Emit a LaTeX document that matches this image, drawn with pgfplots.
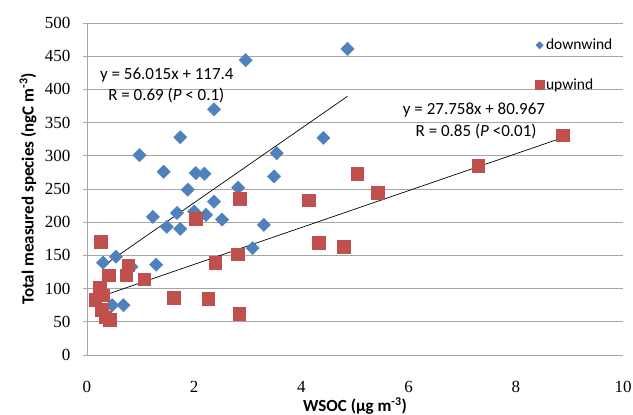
\documentclass[border=0pt]{standalone}
\usepackage{fontspec}
\setmainfont{Carlito}
\newfontfamily\tickfont{Liberation Serif}
\usepackage{pgfplots}
\pgfplotsset{compat=1.18}
\definecolor{dwblue}{HTML}{4F81BD}
\definecolor{upred}{HTML}{C0504D}
\definecolor{gridgray}{HTML}{A6A6A6}

\begin{document}
\begin{tikzpicture}
\begin{axis}[
    scale only axis,
    width=536pt, height=332pt,
    xmin=0, xmax=10, ymin=0, ymax=500,
    xtick={0,2,...,10}, ytick={0,50,...,500},
    axis lines*=left,
    axis line style={gridgray, line width=0.8pt},
    ymajorgrids,
    major grid style={gridgray, line width=0.8pt},
    tick align=outside, major tick length=4pt,
    ytick style={gridgray, line width=0.8pt},
    xtick style={draw=none},
    /pgf/number format/assume math mode=true,
    ticklabel style={font=\tickfont\fontsize{17}{17}\selectfont},
    xticklabel style={anchor=center, yshift=-28pt},
    yticklabel style={anchor=east, xshift=-9pt},
    xlabel={WSOC (μg m\textsuperscript{-3})},
    ylabel={Total measured species (ngC m\textsuperscript{-3})},
    label style={font=\bfseries\fontsize{17}{19}\selectfont},
    xlabel style={at={(rel axis cs:0.5,0)}, anchor=center, yshift=-51pt},
    ylabel style={at={(rel axis cs:0,0.5)}, anchor=center, yshift=59pt},
    legend style={at={(rel axis cs:0.83,0.964)}, anchor=north west,
        draw=none, fill=none, font=\fontsize{15.5}{17}\selectfont,
        row sep=23pt},
    legend cell align=left,
]
% downwind
\addplot[only marks, mark=square*, mark size=4.7pt,
    mark options={rotate=45, fill=dwblue, draw=dwblue},
    legend image post style={mark size=2.6pt}] table {
4.86 461
2.96 444
2.37 370
1.74 328
4.41 327
0.98 301
3.54 304
1.43 276
2.03 274
2.19 273
3.49 269
2.82 252
1.88 249
2.37 231
1.23 208
1.68 214
2.00 216
2.22 211
2.52 204
1.49 193
1.74 190
3.30 196
3.09 161
0.30 139
0.54 148
1.29 136
0.83 133
0.68 75
0.47 75
};
\addlegendentry{downwind}
% upwind
\addplot[only marks, mark=square*, mark size=6.3pt,
    mark options={fill=upred, draw=upred},
    legend image post style={mark size=4.5pt}] table {
0.26 171
0.40 120
0.73 120
0.77 135
1.07 114
0.24 101
0.15 83
0.30 90
0.27 68
0.34 57
0.42 53
1.62 86
2.26 85
2.84 62
2.39 139
2.81 152
2.03 205
2.85 235
4.14 233
4.32 169
4.79 163
5.04 273
5.42 244
7.30 285
8.87 331
};
\addlegendentry{upwind}
% linear fits
\addplot[black, line width=0.7pt, forget plot] coordinates {(0.30,134.2) (4.86,389.6)};
\addplot[black, line width=0.7pt, forget plot] coordinates {(0.15,85.1) (8.87,327.2)};
\node[font=\fontsize{17}{19}\selectfont] at (axis cs:1.49,421.7) {y = 56.015x + 117.4};
\node[font=\fontsize{17}{19}\selectfont] at (axis cs:1.48,391.6) {R = 0.69 (\textit{P} < 0.1)};
\node[font=\fontsize{17}{19}\selectfont] at (axis cs:7.22,369) {y = 27.758x + 80.967};
\node[font=\fontsize{17}{19}\selectfont] at (axis cs:7.26,337) {R = 0.85 (\textit{P} <0.01)};
\coordinate (O) at (rel axis cs:0,0);
\end{axis}
\pgfresetboundingbox
\path (O) ++(-87pt,-60pt) rectangle ++(633pt,415pt);
\end{tikzpicture}
\end{document}
